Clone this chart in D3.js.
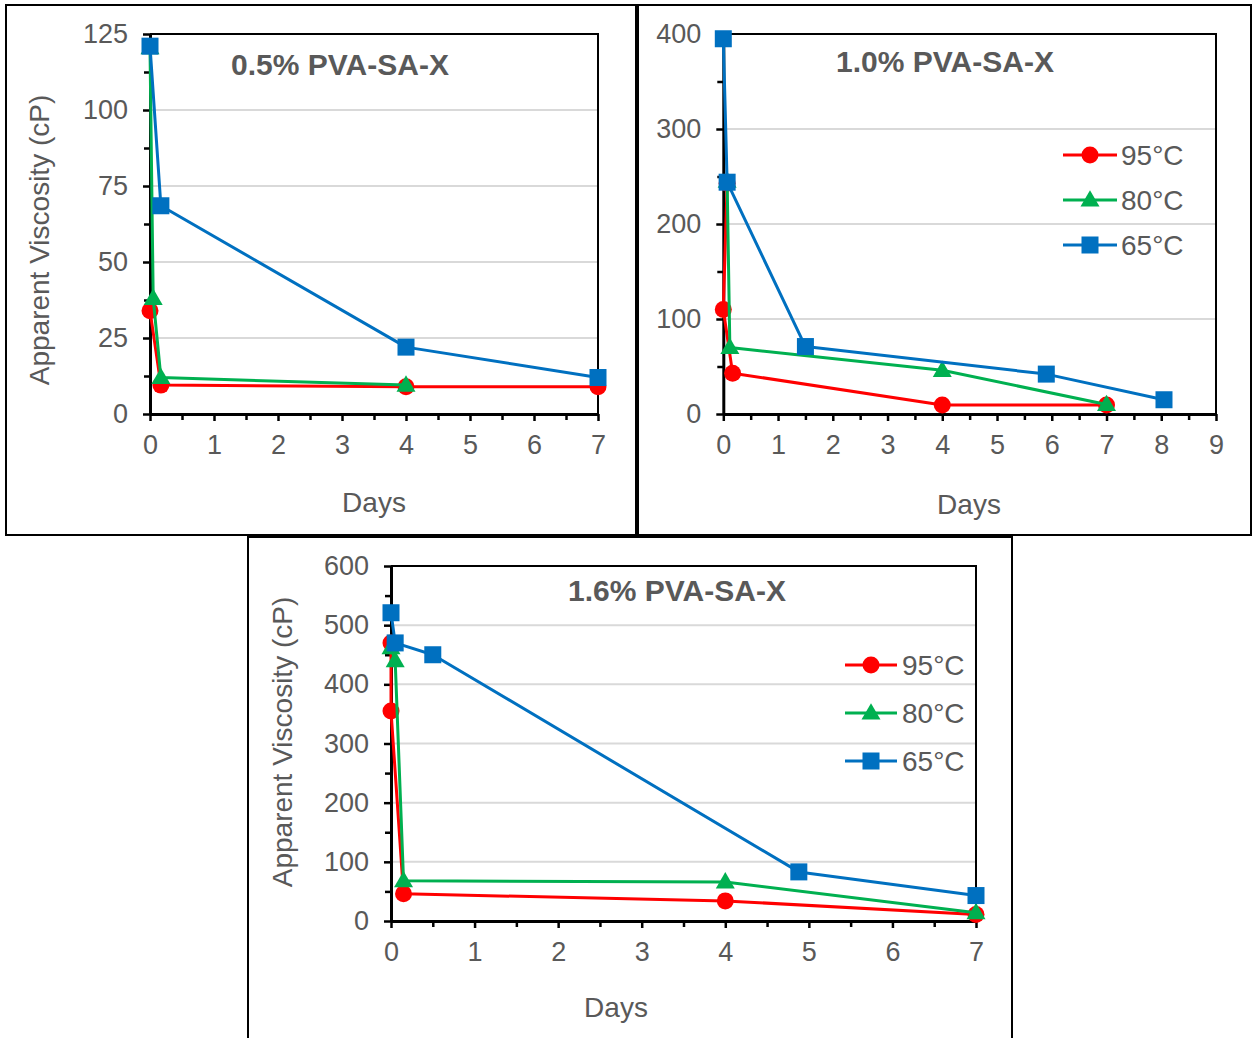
<!DOCTYPE html>
<html>
<head>
<meta charset="utf-8">
<script src="https://cdn.jsdelivr.net/npm/d3@7"></script>
<style>
  html, body { margin: 0; padding: 0; background: #fff; }
  svg { display: block; }
  text { font-family: "Liberation Sans", Arial, sans-serif; fill: #595959; }
</style>
</head>
<body>
<svg id="chart" width="1253" height="1038"></svg>
<script>
// ---- data: apparent viscosity (cP) vs. ageing time (days) ----
const seriesNames = ["95°C", "80°C", "65°C"];
const seriesColors = ["#FF0000", "#00B050", "#0070C0"];
const seriesSymbols = ["circle", "triangle", "square"];

// 0.5% PVA-SA-X
const days05_95 = [0, 0.17, 4, 7];
const visc05_95 = [34, 9.5, 9, 9];
const days05_80 = [0, 0.05, 0.17, 4];
const visc05_80 = [120.5, 38, 12, 9.5];
const days05_65 = [0, 0.17, 4, 7];
const visc05_65 = [121, 68.5, 22, 12];

// 1.0% PVA-SA-X
const days10_95 = [0.07, 0, 0.17, 4, 7];
const visc10_95 = [243, 110, 43, 9.5, 9.5];
const days10_80 = [0.07, 0.12, 4, 7];
const visc10_80 = [245, 70, 46, 10];
const days10_65 = [0, 0.07, 1.5, 5.9, 8.05];
const visc10_65 = [395, 244, 71, 42, 15];

// 1.6% PVA-SA-X
const days16_95 = [0, 0, 0.15, 4, 7];
const visc16_95 = [470, 355, 46, 34, 11];
const days16_80 = [0, 0.05, 0.15, 4, 7];
const visc16_80 = [462, 440, 68, 66, 14];
const days16_65 = [0, 0.05, 0.5, 4.88, 7];
const visc16_65 = [521, 470, 450, 83, 43];

// axis ticks
const yTicks05 = [0, 25, 50, 75, 100, 125];
const yTicks10 = [0, 100, 200, 300, 400];
const yTicks16 = [0, 100, 200, 300, 400, 500, 600];
const xTicks7 = [0, 1, 2, 3, 4, 5, 6, 7];
const xTicks9 = [0, 1, 2, 3, 4, 5, 6, 7, 8, 9];

const titles = ["0.5% PVA-SA-X", "1.0% PVA-SA-X", "1.6% PVA-SA-X"];
const xTitle = "Days";
const yTitle = "Apparent Viscosity (cP)";

function zipSeries(d, v) { return d.map((x, i) => ({ x: x, y: v[i] })); }

const panels = [
  {
    frame: [6, 5, 636, 535], plot: [150, 34, 598, 414],
    xTicks: xTicks7, yTicks: yTicks05,
    series: [zipSeries(days05_95, visc05_95), zipSeries(days05_80, visc05_80), zipSeries(days05_65, visc05_65)],
    title: titles[0], titlePos: [340, 75],
    daysPos: [374, 512], yTitlePos: [49, 240], legend: null
  },
  {
    frame: [638, 5, 1251, 535], plot: [723.3, 34, 1216, 414],
    xTicks: xTicks9, yTicks: yTicks10,
    series: [zipSeries(days10_95, visc10_95), zipSeries(days10_80, visc10_80), zipSeries(days10_65, visc10_65)],
    title: titles[1], titlePos: [945, 72],
    daysPos: [969, 514], yTitlePos: null,
    legend: { x0: 1063, x1: 1117, mx: 1090, tx: 1121, ys: [155, 200, 245] }
  },
  {
    frame: [248, 537, 1012, 1045], plot: [391, 566, 976, 921],
    xTicks: xTicks7, yTicks: yTicks16,
    series: [zipSeries(days16_95, visc16_95), zipSeries(days16_80, visc16_80), zipSeries(days16_65, visc16_65)],
    title: titles[2], titlePos: [677, 601],
    daysPos: [616, 1017], yTitlePos: [292, 742],
    legend: { x0: 845, x1: 897, mx: 871, tx: 902, ys: [665, 713, 761] }
  }
];

const svg = d3.select("#chart");

function drawMarker(g, kind, cx, cy, color) {
  if (kind === "circle") {
    g.append("circle").attr("cx", cx).attr("cy", cy).attr("r", 8.5).attr("fill", color);
  } else if (kind === "square") {
    g.append("rect").attr("x", cx - 8.5).attr("y", cy - 8.5).attr("width", 17).attr("height", 17).attr("fill", color);
  } else {
    const s = 19, h = s * Math.sqrt(3) / 2;
    g.append("path")
      .attr("d", `M${cx},${cy - h * 0.6}L${cx + s / 2},${cy + h * 0.4}L${cx - s / 2},${cy + h * 0.4}Z`)
      .attr("fill", color);
  }
}

panels.forEach(p => {
  const g = svg.append("g");
  const [fx0, fy0, fx1, fy1] = p.frame;
  g.append("rect").attr("x", fx0).attr("y", fy0).attr("width", fx1 - fx0).attr("height", fy1 - fy0)
    .attr("fill", "#fff").attr("stroke", "#000").attr("stroke-width", 2);

  const [px0, py0, px1, py1] = p.plot;
  const xMax = p.xTicks[p.xTicks.length - 1];
  const yMax = p.yTicks[p.yTicks.length - 1];
  const x = d3.scaleLinear().domain([0, xMax]).range([px0, px1]);
  const y = d3.scaleLinear().domain([0, yMax]).range([py1, py0]);
  const yStep = p.yTicks[1] - p.yTicks[0];
  const yMinor = d3.range(yStep / 2, yMax, yStep);
  const xMinor = d3.range(0.5, xMax, 1);

  // horizontal gridlines
  g.append("g").selectAll("line").data(p.yTicks.filter(t => t > 0 && t < yMax)).join("line")
    .attr("x1", px0).attr("x2", px1).attr("y1", d => y(d)).attr("y2", d => y(d))
    .attr("stroke", "#d9d9d9").attr("stroke-width", 2);

  // plot frame: top and right edges
  g.append("path").attr("d", `M${px0},${py0}H${px1}V${py1}`)
    .attr("fill", "none").attr("stroke", "#000").attr("stroke-width", 2);

  // y axis
  g.append("g").attr("transform", `translate(${px0},0)`)
    .call(d3.axisLeft(y).tickValues(p.yTicks).tickFormat(d3.format("d"))
      .tickSize(7).tickPadding(15).tickSizeOuter(0));
  g.append("g").attr("transform", `translate(${px0},0)`)
    .call(d3.axisLeft(y).tickValues(yMinor).tickSize(6).tickFormat("").tickSizeOuter(0))
    .call(a => a.select(".domain").remove());
  // x axis
  g.append("g").attr("transform", `translate(0,${py1})`)
    .call(d3.axisBottom(x).tickValues(p.xTicks).tickFormat(d3.format("d"))
      .tickSize(7).tickPadding(14).tickSizeOuter(0));
  g.append("g").attr("transform", `translate(0,${py1})`)
    .call(d3.axisBottom(x).tickValues(xMinor).tickSize(6).tickFormat("").tickSizeOuter(0))
    .call(a => a.select(".domain").remove());

  g.selectAll(".domain").attr("stroke", "#000").attr("stroke-width", 3);
  g.selectAll(".tick line").attr("stroke", "#000").attr("stroke-width", 2.5);
  g.selectAll(".tick text").attr("fill", "#595959").style("font-size", "27px")
    .style("font-family", '"Liberation Sans", Arial, sans-serif');

  // series: red, green, then blue on top
  const line = d3.line().x(d => x(d.x)).y(d => y(d.y));
  p.series.forEach((s, i) => {
    const sg = g.append("g");
    sg.append("path").datum(s).attr("d", line).attr("fill", "none")
      .attr("stroke", seriesColors[i]).attr("stroke-width", 3).attr("stroke-linejoin", "round");
    s.forEach(d => drawMarker(sg, seriesSymbols[i], x(d.x), y(d.y), seriesColors[i]));
  });

  // titles
  g.append("text").attr("x", p.titlePos[0]).attr("y", p.titlePos[1]).attr("text-anchor", "middle")
    .style("font-size", "30px").style("font-weight", "bold").text(p.title);
  g.append("text").attr("x", p.daysPos[0]).attr("y", p.daysPos[1]).attr("text-anchor", "middle")
    .style("font-size", "28px").text(xTitle);
  if (p.yTitlePos) {
    g.append("text").attr("transform", `translate(${p.yTitlePos[0]},${p.yTitlePos[1]}) rotate(-90)`)
      .attr("text-anchor", "middle").style("font-size", "28px").text(yTitle);
  }

  // legend
  if (p.legend) {
    const L = p.legend;
    seriesNames.forEach((name, i) => {
      const ly = L.ys[i];
      g.append("line").attr("x1", L.x0).attr("x2", L.x1).attr("y1", ly).attr("y2", ly)
        .attr("stroke", seriesColors[i]).attr("stroke-width", 3);
      drawMarker(g, seriesSymbols[i], L.mx, ly, seriesColors[i]);
      g.append("text").attr("x", L.tx).attr("y", ly + 10).style("font-size", "28px").text(name);
    });
  }
});
</script>
</body>
</html>
